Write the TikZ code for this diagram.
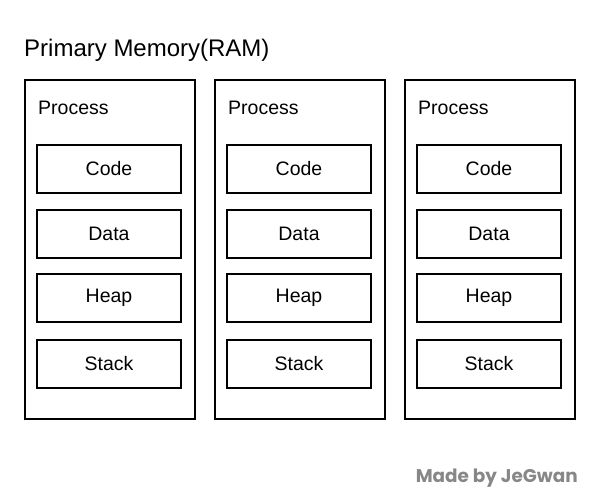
\documentclass[tikz,border=0pt]{standalone}
\usepackage{fontspec}
\setmainfont{Liberation Sans}
\newfontfamily\madefont{Poppins}
\begin{document}
\begin{tikzpicture}[x=1pt,y=-1pt,
  procbox/.style={draw=black,line width=2pt,minimum width=170pt,minimum height=339pt,inner sep=0pt,anchor=north west},
  segbox/.style={draw=black,line width=2pt,minimum width=144pt,minimum height=48pt,inner sep=0pt,font=\fontsize{19.5}{21}\selectfont},
  plabel/.style={anchor=base west,inner sep=0pt,font=\fontsize{19.5}{21}\selectfont}]
\useasboundingbox (0,0) rectangle (602,500);
\node[anchor=base west,inner sep=0pt,font=\fontsize{24}{26}\selectfont] (title) at (24,57) {Primary Memory(RAM)};
\foreach \i/\x in {1/24,2/214,3/404}{
  \node[procbox] (p\i) at (\x,79) {};
  \node[plabel] (pl\i) at (\x+14,114.5) {Process};
  \node[segbox] (code\i) at (\x+85,169) {Code};
  \node[segbox] (data\i) at (\x+85,233.5) {Data};
  \node[segbox] (heap\i) at (\x+85,298) {Heap};
  \node[segbox] (stack\i) at (\x+85,363.5) {Stack};
}
\node[anchor=base east,inner sep=0pt,text=black!47,font=\madefont\bfseries\fontsize{18.4}{20}\selectfont] (made) at (578,482) {Made by JeGwan};
\end{tikzpicture}
\end{document}
